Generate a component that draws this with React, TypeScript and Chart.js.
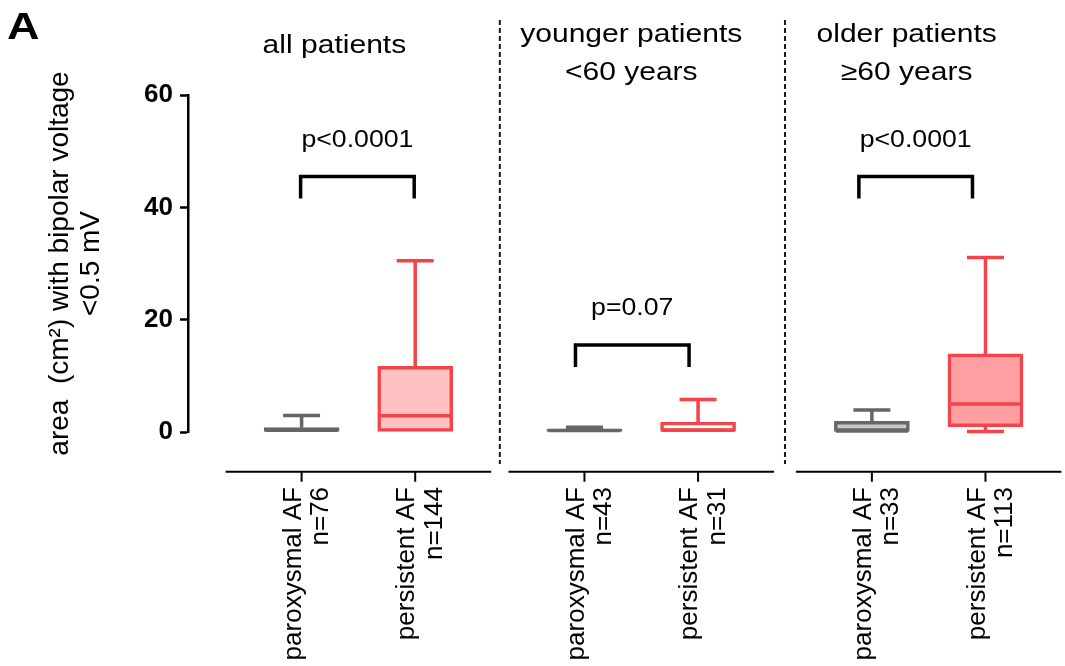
import React, { useEffect, useRef } from 'react';
import { Chart, registerables } from 'chart.js';

Chart.register(...registerables);

// ---------- data ----------
const groupTitles = [['all patients'], ['younger patients', '<60 years'], ['older patients', '\u226560 years']];
const categories = ['paroxysmal AF', 'persistent AF', 'paroxysmal AF', 'persistent AF', 'paroxysmal AF', 'persistent AF'];
const counts = [76, 144, 43, 31, 33, 113];
const groupOf = [0, 0, 1, 1, 2, 2];
const whiskerMin = [0, 0, 0, 0, 0, 0.1];
const q1 = [0, 0, 0, 0, 0, 0.95];
const median = [0.3, 2.9, 0.25, 0.3, 0.2, 5.0];
const q3 = [0.77, 11.7, 0.53, 1.78, 1.89, 13.9];
const whiskerMax = [2.95, 30.5, 0.85, 5.8, 3.9, 31.05];
const pValues = ['p<0.0001', 'p=0.07', 'p<0.0001'];
const bracketLevel = [45.5, 15.5, 45.5];
const yTickValues = [0, 20, 40, 60];
const yTitle = ['area  (cm\u00b2) with bipolar voltage', '<0.5 mV'];

// ---------- layout / style ----------
const slotPos = [0, 1, 2.49, 3.49, 5.02, 6.02];
const X_MIN = -1;
const X_MAX = 6.72;
const FONT = '"Liberation Sans", Arial, Helvetica, sans-serif';
const STROKES = ['#666666', '#F2444A', '#666666', '#F2444A', '#666666', '#F2444A'];
const FILLS = ['#C8C8C8', '#FFC1C2', '#C8C8C8', '#FFFFFF', '#C8C8C8', '#FF9FA2'];
const titleCenterShift = [-24, -10, -22];
const bracketShift = [-1, -9, -13];

function stretchText(ctx: CanvasRenderingContext2D, text: string, x: number, y: number, font: string, sx: number, align: CanvasTextAlign = 'center') {
  ctx.save();
  ctx.translate(x, y);
  ctx.scale(sx, 1);
  ctx.font = font;
  ctx.textAlign = align;
  ctx.textBaseline = 'alphabetic';
  ctx.fillStyle = '#000';
  ctx.fillText(text, 0, 0);
  ctx.restore();
}

const boxPlugin = {
  id: 'boxExtras',
  beforeDatasetsDraw(chart: any) {
    const ctx = chart.ctx as CanvasRenderingContext2D;
    const xs = chart.scales.x;
    const ys = chart.scales.y;
    ctx.save();
    ctx.lineWidth = 3.5;
    ctx.lineCap = 'butt';
    for (let i = 0; i < slotPos.length; i++) {
      const x = xs.getPixelForValue(slotPos[i]);
      ctx.strokeStyle = STROKES[i];
      const yTop = ys.getPixelForValue(whiskerMax[i]);
      const yQ3 = ys.getPixelForValue(q3[i]);
      ctx.beginPath();
      ctx.moveTo(x, yQ3);
      ctx.lineTo(x, yTop);
      ctx.moveTo(x - 18.5, yTop);
      ctx.lineTo(x + 18.5, yTop);
      ctx.stroke();
      if (whiskerMin[i] < q1[i]) {
        const yBot = ys.getPixelForValue(whiskerMin[i]);
        const yQ1 = ys.getPixelForValue(q1[i]);
        ctx.beginPath();
        ctx.moveTo(x, yQ1);
        ctx.lineTo(x, yBot);
        ctx.moveTo(x - 18.5, yBot);
        ctx.lineTo(x + 18.5, yBot);
        ctx.stroke();
      }
    }
    ctx.restore();
  },
  afterDatasetsDraw(chart: any) {
    const ctx = chart.ctx as CanvasRenderingContext2D;
    const xs = chart.scales.x;
    const ys = chart.scales.y;
    ctx.save();
    ctx.lineWidth = 3.5;
    for (let i = 0; i < slotPos.length; i++) {
      const x = xs.getPixelForValue(slotPos[i]);
      const y = ys.getPixelForValue(median[i]);
      ctx.strokeStyle = STROKES[i];
      ctx.beginPath();
      ctx.moveTo(x - 36, y);
      ctx.lineTo(x + 36, y);
      ctx.stroke();
    }
    ctx.restore();
  },
  afterDraw(chart: any) {
    const ctx = chart.ctx as CanvasRenderingContext2D;
    const xs = chart.scales.x;
    const ys = chart.scales.y;
    const area = chart.chartArea;
    const axisY = area.bottom + 39.7;
    const W = chart.width;
    ctx.save();
    const segs: number[][] = [];
    for (let g = 0; g < groupTitles.length; g++) {
      const idx = groupOf.map((v, i) => (v === g ? i : -1)).filter((i) => i >= 0);
      const a = xs.getPixelForValue(slotPos[idx[0]]) - 76;
      const b = Math.min(W, xs.getPixelForValue(slotPos[idx[idx.length - 1]]) + 76);
      segs.push([a, b]);
      ctx.strokeStyle = '#000';
      ctx.lineWidth = 2;
      ctx.setLineDash([]);
      ctx.beginPath();
      ctx.moveTo(a, axisY);
      ctx.lineTo(b, axisY);
      for (const i of idx) {
        const x = xs.getPixelForValue(slotPos[i]);
        ctx.moveTo(x, axisY);
        ctx.lineTo(x, axisY + 10);
      }
      ctx.stroke();
    }
    ctx.lineWidth = 2;
    ctx.strokeStyle = '#1a1a1a';
    ctx.setLineDash([5, 3]);
    for (let g = 0; g < segs.length - 1; g++) {
      const x = (segs[g][1] + segs[g + 1][0]) / 2;
      ctx.beginPath();
      ctx.moveTo(x, 20);
      ctx.lineTo(x, 464);
      ctx.stroke();
    }
    ctx.setLineDash([]);
    for (let g = 0; g < groupTitles.length; g++) {
      const idx = groupOf.map((v, i) => (v === g ? i : -1)).filter((i) => i >= 0);
      const x1 = xs.getPixelForValue(slotPos[idx[0]]) + bracketShift[g];
      const x2 = xs.getPixelForValue(slotPos[idx[idx.length - 1]]) + bracketShift[g];
      const yT = ys.getPixelForValue(bracketLevel[g]);
      ctx.strokeStyle = '#000';
      ctx.lineWidth = 3.5;
      ctx.lineJoin = 'miter';
      ctx.beginPath();
      ctx.moveTo(x1, yT + 22);
      ctx.lineTo(x1, yT);
      ctx.lineTo(x2, yT);
      ctx.lineTo(x2, yT + 22);
      ctx.stroke();
      stretchText(ctx, pValues[g], (x1 + x2) / 2, yT - 29.5, `23px ${FONT}`, 1.16);
      const center = (xs.getPixelForValue(slotPos[idx[0]]) + xs.getPixelForValue(slotPos[idx[idx.length - 1]])) / 2 + titleCenterShift[g];
      const lines = groupTitles[g];
      if (lines.length === 1) {
        stretchText(ctx, lines[0], center, 52.5, `26px ${FONT}`, 1.155);
      } else {
        stretchText(ctx, lines[0], center, 42, `26px ${FONT}`, 1.155);
        stretchText(ctx, lines[1], center, 80, `26px ${FONT}`, 1.155);
      }
    }
    stretchText(ctx, 'A', 7, 39, `bold 36px ${FONT}`, 1.25, 'left');
    ctx.restore();
  },
};

export default function App() {
  const ref = useRef<HTMLCanvasElement>(null);
  useEffect(() => {
    if (!ref.current) return;
    const chart = new Chart(ref.current, {
      type: 'bar',
      data: {
        datasets: [
          {
            data: slotPos.map((x, i) => ({ x, y: [q1[i], q3[i]] })) as any,
            backgroundColor: FILLS,
            borderColor: STROKES,
            borderWidth: 3.5,
            borderSkipped: false,
            barThickness: 75,
            clip: false as any,
          },
        ],
      },
      options: {
        responsive: false,
        animation: false,
        devicePixelRatio: 1,
        layout: { padding: { top: 95, left: 0, right: 0, bottom: 0 } },
        plugins: { legend: { display: false }, tooltip: { enabled: false } },
        scales: {
          x: {
            type: 'linear',
            min: X_MIN,
            max: X_MAX,
            offset: false,
            afterBuildTicks: (s: any) => {
              s.ticks = slotPos.map((v) => ({ value: v }));
            },
            afterFit: (s: any) => {
              s.height = 234;
              s.paddingLeft = 0;
              s.paddingRight = 0;
              s.paddingTop = 0;
              s.paddingBottom = 0;
            },
            grid: { display: false, drawTicks: false, tickLength: 0 },
            border: { display: false },
            ticks: {
              autoSkip: false,
              minRotation: 90,
              maxRotation: 90,
              padding: 55,
              labelOffset: -8,
              color: '#000',
              font: { family: FONT, size: 26, lineHeight: 1.05 },
              callback: (_v: any, i: number) => [categories[i], 'n=' + counts[i]],
            },
          },
          y: {
            type: 'linear',
            min: 0,
            max: 60,
            afterBuildTicks: (s: any) => {
              s.ticks = yTickValues.map((v) => ({ value: v }));
            },
            afterFit: (s: any) => {
              s.width = 188;
              s.paddingTop = 0;
              s.paddingBottom = 0;
              s.paddingLeft = 0;
              s.paddingRight = 0;
            },
            grid: { drawOnChartArea: false, drawTicks: true, tickLength: 8, tickWidth: 2.5, tickColor: '#000' },
            border: { display: true, color: '#000', width: 2.5 },
            ticks: { padding: 7, color: '#000', font: { family: FONT, size: 26, weight: 'bold' } },
            title: {
              display: true,
              text: yTitle,
              color: '#000',
              font: { family: FONT, size: 28, lineHeight: 1.1 },
              padding: { top: 45, bottom: 0 },
            },
          },
        },
      } as any,
      plugins: [boxPlugin],
    });
    return () => chart.destroy();
  }, []);
  return (
    <div style={{ position: 'absolute', left: 0, top: 0, width: 1065, height: 666, background: '#fff' }}>
      <canvas ref={ref} width={1065} height={666} style={{ display: 'block' }} />
    </div>
  );
}
